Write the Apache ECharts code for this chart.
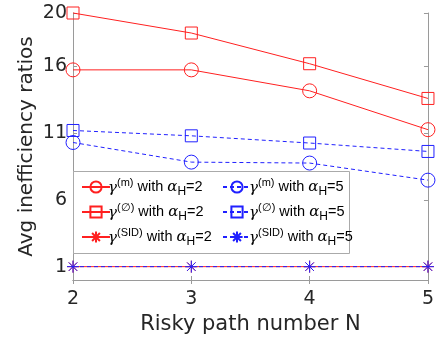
<!DOCTYPE html>
<html><head><meta charset="utf-8">
<script src="https://cdn.jsdelivr.net/npm/echarts@6/dist/echarts.min.js"></script>
<style>html,body{margin:0;padding:0;background:#fff}#c{width:437px;height:344px}</style>
</head><body><div id="c"></div>
<script>
const xValues = [2, 3, 4, 5];
const yTicks = [1, 6, 11, 16, 20];
const mA2 = [15.74, 15.74, 14.17, 11.26];
const oA2 = [20.0, 18.5, 16.2, 13.6];
const sidA2 = [1, 1, 1, 1];
const mA5 = [10.3, 8.83, 8.76, 7.48];
const oA5 = [11.2, 10.8, 10.26, 9.63];
const sidA5 = [1, 1, 1, 1];

const RED = '#ff2020', BLUE = '#2020ff';
const star = 'path://M5,0L5,10M0,5L10,5M1.5,1.5L8.5,8.5M1.5,8.5L8.5,1.5';
const pairs = a => xValues.map((x, i) => [x, a[i]]);
function mk(name, data, color, dashed, symbol, size) {
  return {
    name, type: 'line', data: pairs(data), xAxisIndex: 0, yAxisIndex: 0,
    symbol, symbolSize: size, showSymbol: true,
    lineStyle: { color, width: 1, type: dashed ? [4, 3] : 'solid' },
    itemStyle: { color: symbol === star ? color : 'transparent', borderColor: color, borderWidth: 1 },
    emphasis: { disabled: true }, animation: false, clip: false
  };
}
const labels = {
  m2: ['(m)', '2'], m5: ['(m)', '5'], o2: ['(\u2205)', '2'], o5: ['(\u2205)', '5'],
  s2: ['(SID)', '2'], s5: ['(SID)', '5']
};
const rich = {
  g: { fontSize: 15, fontFamily: 'DejaVu Serif', fontStyle: 'italic', color: '#000', verticalAlign: 'middle', padding: [2, 0, 0, 0] },
  sup: { fontSize: 11, fontFamily: 'Liberation Sans', color: '#000', verticalAlign: 'middle', padding: [0, 0, 9, 0] },
  t: { fontSize: 14.5, fontFamily: 'Liberation Sans', color: '#000', verticalAlign: 'middle' },
  a: { fontSize: 15, fontFamily: 'DejaVu Serif', fontStyle: 'italic', color: '#000', verticalAlign: 'middle' },
  sub: { fontSize: 12, fontFamily: 'Liberation Sans', color: '#000', verticalAlign: 'middle', padding: [10, 0, 0, 0] }
};
const fmt = n => `{g|\u03b3}{sup|${labels[n][0]}}{t| with }{a|\u03b1}{sub|H}{t|=${labels[n][1]}}`;
const legendBase = {
  orient: 'vertical', top: 172, itemWidth: 28, itemHeight: 14, itemGap: 4,
  formatter: fmt, textStyle: { rich, padding: [0, 0, 0, -7] }, selectedMode: false, z: 20
};
const axisCol = '#9a9a9a';
const chart = echarts.init(document.getElementById('c'), null, { renderer: 'canvas' });
chart.setOption({
  animation: false,
  grid: { left: 73, right: 2, top: 13, bottom: 64, containLabel: false },
  xAxis: [{
    type: 'value', min: 2, max: 5, interval: 1, position: 'bottom',
    name: 'Risky path number N', nameLocation: 'middle', nameGap: 31,
    nameTextStyle: { fontSize: 21, fontFamily: 'DejaVu Sans', color: '#262626' },
    axisLine: { show: true, lineStyle: { color: axisCol } },
    axisTick: { show: true, inside: true, length: 4, lineStyle: { color: axisCol } },
    axisLabel: { fontSize: 19, fontFamily: 'DejaVu Sans', color: '#262626', margin: 10 },
    splitLine: { show: false }
  }, {
    type: 'value', min: 2, max: 5, interval: 1, position: 'top',
    axisLine: { show: true, lineStyle: { color: axisCol } },
    axisTick: { show: true, inside: true, length: 4, lineStyle: { color: axisCol } },
    axisLabel: { show: false }, splitLine: { show: false }
  }],
  yAxis: [{
    type: 'value', min: 0, max: 20, position: 'left',
    name: 'Avg inefficiency ratios', nameLocation: 'middle', nameGap: 36, nameMoveOverlap: false,
    nameTextStyle: { fontSize: 20, fontFamily: 'DejaVu Sans', color: '#262626' },
    axisLine: { show: true, lineStyle: { color: axisCol } },
    axisTick: { show: true, inside: true, length: 4, customValues: yTicks, lineStyle: { color: axisCol } },
    axisLabel: { fontSize: 19, fontFamily: 'DejaVu Sans', color: '#262626', margin: 6, customValues: yTicks },
    splitLine: { show: false }
  }, {
    type: 'value', min: 0, max: 20, position: 'right',
    axisLine: { show: true, lineStyle: { color: axisCol } },
    axisTick: { show: true, inside: true, length: 4, customValues: yTicks, lineStyle: { color: axisCol } },
    axisLabel: { show: false }, splitLine: { show: false }
  }],
  graphic: [{
    type: 'rect', left: 73, top: 171, shape: { width: 276, height: 82 }, z: 10,
    style: { fill: '#fff', stroke: '#aaaaaa', lineWidth: 1 }
  }],
  legend: [
    Object.assign({}, legendBase, { left: 76, data: ['m2', 'o2', 's2'] }),
    Object.assign({}, legendBase, { left: 217, data: ['m5', 'o5', 's5'] })
  ],
  series: [
    mk('m2', mA2, RED, false, 'circle', 14),
    mk('o2', oA2, RED, false, 'rect', 12),
    mk('s2', sidA2, RED, false, star, 12),
    mk('m5', mA5, BLUE, true, 'circle', 14),
    mk('o5', oA5, BLUE, true, 'rect', 12),
    mk('s5', sidA5, BLUE, true, star, 12)
  ]
});
</script></body></html>
